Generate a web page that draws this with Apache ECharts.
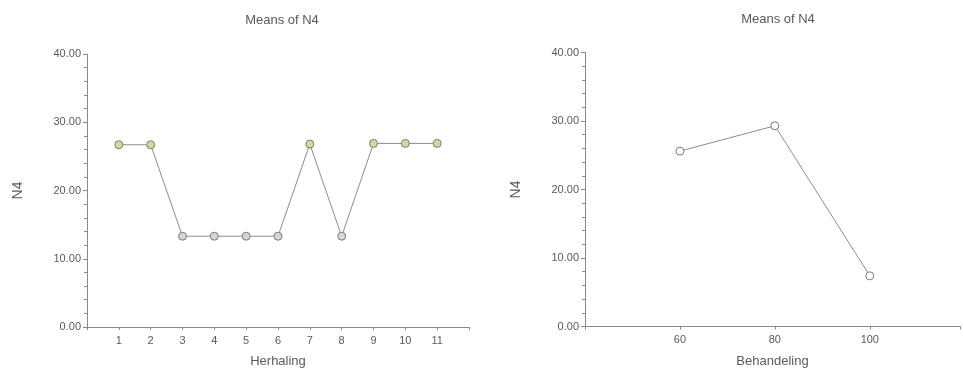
<!DOCTYPE html>
<html>
<head>
<meta charset="utf-8">
<script src="https://cdn.jsdelivr.net/npm/echarts@6/dist/echarts.min.js"></script>
<style>
html,body{margin:0;padding:0;background:#fff;}
#c{width:963px;height:373px;}
</style>
</head>
<body>
<div id="c"></div>
<script>
// Left panel: Herhaling
const herhaling = [1, 2, 3, 4, 5, 6, 7, 8, 9, 10, 11];
const meansHerhaling = [26.7, 26.7, 13.3, 13.3, 13.3, 13.3, 26.8, 13.3, 26.9, 26.9, 26.9];
// Right panel: Behandeling
const behandeling = [60, 80, 100];
const meansBehandeling = [25.6, 29.3, 7.4];
const yTicks = [0, 10, 20, 30, 40];

const chart = echarts.init(document.getElementById('c'));
const font = 'Liberation Sans, Arial, sans-serif';
const axisCol = '#8a8a8a';
const textCol = '#5a5a5a';

function yAxis(gi) {
  return {
    gridIndex: gi, type: 'value', min: 0, max: 40, interval: 10,
    name: 'N4', nameLocation: 'middle', nameGap: 62, nameRotate: 90,
    nameTextStyle: {fontFamily: font, fontSize: 14, color: textCol},
    axisLine: {show: true, lineStyle: {color: axisCol, width: 1}},
    axisTick: {show: true, length: 4, lineStyle: {color: axisCol}},
    minorTick: {show: true, splitNumber: 5, length: 3, lineStyle: {color: axisCol}},
    splitLine: {show: false},
    axisLabel: {fontFamily: font, fontSize: 11, color: textCol, margin: 6,
      formatter: v => yTicks.includes(v) ? v.toFixed(2) : ''}
  };
}

chart.setOption({
  animation: false,
  title: [
    {text: 'Means of N4', left: 277, top: 9, textAlign: 'center',
     textStyle: {fontFamily: font, fontSize: 13, fontWeight: 'normal', color: textCol}},
    {text: 'Means of N4', left: 773, top: 8, textAlign: 'center',
     textStyle: {fontFamily: font, fontSize: 13, fontWeight: 'normal', color: textCol}}
  ],
  grid: [
    {left: 87, top: 54, width: 382, height: 274},
    {left: 585, top: 52.5, right: 0, height: 274}
  ],
  xAxis: [
    {gridIndex: 0, type: 'value', min: 0, max: 12, interval: 1,
     name: 'Herhaling', nameLocation: 'middle', nameGap: 28,
     nameTextStyle: {fontFamily: font, fontSize: 13, color: textCol},
     axisLine: {show: true, lineStyle: {color: axisCol}},
     axisTick: {show: true, length: 3, lineStyle: {color: axisCol}},
     splitLine: {show: false},
     axisLabel: {fontFamily: font, fontSize: 11, color: textCol, margin: 8,
       formatter: v => herhaling.includes(v) ? String(v) : ''}},
    {gridIndex: 1, type: 'value', min: 40, max: 119, interval: 20,
     name: 'Behandeling', nameLocation: 'middle', nameGap: 28,
     nameTextStyle: {fontFamily: font, fontSize: 13, color: textCol},
     axisLine: {show: true, lineStyle: {color: axisCol}},
     axisTick: {show: true, length: 3, lineStyle: {color: axisCol}},
     splitLine: {show: false},
     axisLabel: {fontFamily: font, fontSize: 11, color: textCol, margin: 8,
       formatter: v => behandeling.includes(v) ? String(v) : ''}}
  ],
  yAxis: [yAxis(0), yAxis(1)],
  series: [
    {type: 'line', xAxisIndex: 0, yAxisIndex: 0,
     data: herhaling.map((x, i) => [x, meansHerhaling[i]]),
     symbol: 'circle', symbolSize: 8,
     lineStyle: {color: '#8c8c8c', width: 1},
     itemStyle: {borderColor: '#7a7a7a', borderWidth: 1,
       color: p => p.value[1] > 20 ? '#d6d89a' : '#d6d6d6'}},
    {type: 'line', xAxisIndex: 1, yAxisIndex: 1,
     data: behandeling.map((x, i) => [x, meansBehandeling[i]]),
     symbol: 'circle', symbolSize: 8,
     lineStyle: {color: '#8c8c8c', width: 1},
     itemStyle: {borderColor: '#7a7a7a', borderWidth: 1, color: '#ffffff'}}
  ]
});
</script>
</body>
</html>
